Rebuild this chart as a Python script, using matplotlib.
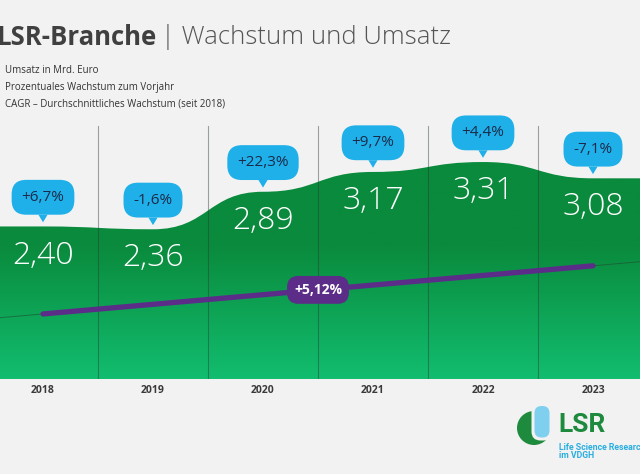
import numpy as np
import matplotlib.pyplot as plt
import matplotlib.transforms as mtransforms
from matplotlib.path import Path
from matplotlib.patches import PathPatch, FancyBboxPatch, Circle
from matplotlib.colors import LinearSegmentedColormap

plt.rcParams["font.family"] = ["Open Sans", "DejaVu Sans"]

# Daten
jahre = ["2018", "2019", "2020", "2021", "2022", "2023"]
umsatz = [2.40, 2.36, 2.89, 3.17, 3.31, 3.08]
wachstum = ["+6,7%", "-1,6%", "+22,3%", "+9,7%", "+4,4%", "-7,1%"]
cagr_text = "+5,12%"

untertitel = ["Umsatz in Mrd. Euro",
              "Prozentuales Wachstum zum Vorjahr",
              "CAGR – Durchschnittliches Wachstum (seit 2018)"]

GRUEN_OBEN = "#0a8a3c"
GRUEN_UNTEN = "#12bd6f"
BLAU = "#1fb0ea"
LILA = "#5b2d88"

fig = plt.figure(figsize=(6.4, 4.74), dpi=100)
fig.patch.set_facecolor("#f2f2f2")

# Deko-Achse in Pixelkoordinaten (Titel, Logo)
deco = fig.add_axes([0, 0, 1, 1])
deco.set_xlim(0, 640)
deco.set_ylim(474, 0)
deco.axis("off")

# Diagramm-Achse
ax = fig.add_axes([0, 95 / 474, 1, 269 / 474])
ax.set_xlim(-43 / 110, 597 / 110)
ax.set_ylim(0.245, 4.045)
ax.axis("off")
ax.patch.set_alpha(0)
x0, x1 = ax.get_xlim()
y0, y1 = ax.get_ylim()

# geglaettete Flaeche
verts = [(x0, y0), (x0, umsatz[0]), (0, umsatz[0])]
codes = [Path.MOVETO, Path.LINETO, Path.LINETO]
for i in range(len(umsatz) - 1):
    verts += [(i + 0.5, umsatz[i]), (i + 0.5, umsatz[i + 1]), (i + 1, umsatz[i + 1])]
    codes += [Path.CURVE4] * 3
verts += [(x1, umsatz[-1]), (x1, y0), (x0, y0)]
codes += [Path.LINETO, Path.LINETO, Path.CLOSEPOLY]
flaeche = PathPatch(Path(verts, codes), fc="none", ec="none")
ax.add_patch(flaeche)

cmap = LinearSegmentedColormap.from_list("gr", [GRUEN_OBEN, GRUEN_OBEN, GRUEN_UNTEN])
grad = np.linspace(0, 1, 256).reshape(-1, 1)
img = ax.imshow(grad, extent=[x0, x1, y0, y1], origin="upper", aspect="auto",
                cmap=cmap, zorder=1)
img.set_clip_path(flaeche)

# Trennlinien
for i in range(len(jahre) - 1):
    ax.axvline(i + 0.5, ymin=0, ymax=0.94, color="#2e3a33", alpha=0.45, lw=0.8, zorder=2)

# Umsatzwerte
for i, v in enumerate(umsatz):
    ax.annotate(f"{v:.2f}".replace(".", ","), xy=(i, v), xytext=(0, -21),
                textcoords="offset points", ha="center", va="center",
                fontsize=23, color="white", fontweight="light", zorder=5)

# Sprechblasen
for i, (v, w) in enumerate(zip(umsatz, wachstum)):
    ax.annotate(w, xy=(i, v), xytext=(0, 21), textcoords="offset points",
                ha="center", va="center", fontsize=11, color="#1b2a48", zorder=6,
                bbox=dict(boxstyle="round,pad=0.65,rounding_size=0.95", fc=BLAU, ec="none"),
                arrowprops=dict(arrowstyle="wedge,tail_width=0.6,shrink_factor=0.5",
                                fc=BLAU, ec="none", shrinkA=0, shrinkB=3))

# CAGR-Linie
trans = mtransforms.offset_copy(ax.transData, fig=fig, y=-63, units="points")
steigung = (umsatz[-1] - umsatz[0]) / (len(umsatz) - 1)
ax.plot([x0, x1], [umsatz[0] + steigung * x0, umsatz[0] + steigung * x1],
        transform=trans, color="#1d4d32", lw=0.7, alpha=0.6, zorder=3)
ax.plot([0, len(umsatz) - 1], [umsatz[0], umsatz[-1]], transform=trans,
        color=LILA, lw=3.8, solid_capstyle="round", zorder=4)
mitte = (len(umsatz) - 1) / 2
ax.text(mitte, (umsatz[0] + umsatz[-1]) / 2, cagr_text, transform=trans,
        ha="center", va="center", fontsize=10, fontweight="bold", color="white", zorder=6,
        bbox=dict(boxstyle="round,pad=0.5,rounding_size=0.8", fc=LILA, ec="none"))

# Jahre
for i, j in enumerate(jahre):
    ax.text(i, -0.041, j, transform=ax.get_xaxis_transform(), ha="center", va="center",
            fontsize=7.5, fontweight="bold", color="#3a3a3a")

# Titel
t = deco.text(-3, 37, "LSR-Branche", fontsize=18.5, fontweight="bold", color="#404040",
              va="center", ha="left")
deco.annotate("| Wachstum und Umsatz", xy=(1, 0.5), xycoords=t, xytext=(3, 0),
              textcoords="offset points", fontsize=18.5, fontweight="light",
              color="#555555", va="center", ha="left")
for k, s in enumerate(untertitel):
    deco.text(5, 70 + 17 * k, s, fontsize=7, color="#333333", va="center")

# Logo
deco.add_patch(Circle((534, 428), 17, fc="#1d8a3e", ec="none"))
deco.add_patch(FancyBboxPatch((531.5, 403), 21, 37.5, boxstyle="round,pad=0,rounding_size=9",
                              fc="#f2f2f2", ec="none"))
deco.add_patch(FancyBboxPatch((534.5, 406), 15, 31.5, boxstyle="round,pad=0,rounding_size=7",
                              fc="#7fd0ef", ec="none"))
deco.text(558, 425, "LSR", fontsize=19, fontweight="bold", color="#1d8a3e",
          va="center", ha="left", family=["Roboto", "DejaVu Sans"])
deco.text(559, 447, "Life Science Research", fontsize=6.3, fontweight="bold",
          color="#29aee0", va="center", ha="left", family=["Roboto", "DejaVu Sans"])
deco.text(559, 456, "im VDGH", fontsize=6.3, fontweight="bold",
          color="#29aee0", va="center", ha="left", family=["Roboto", "DejaVu Sans"])

plt.savefig("out.png", dpi=100, facecolor=fig.get_facecolor())
